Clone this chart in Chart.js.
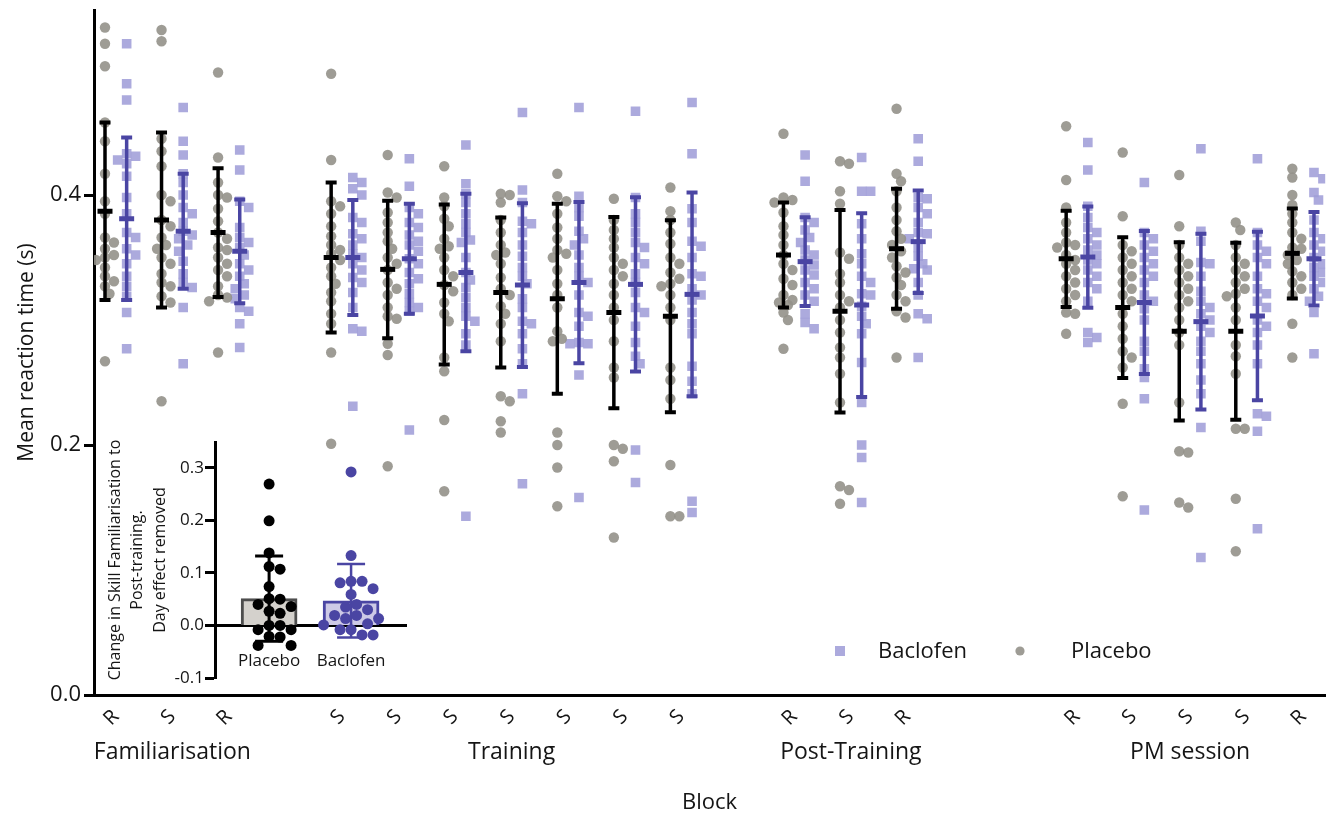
<!DOCTYPE html>
<html><head><meta charset="utf-8">
<script src="https://cdn.jsdelivr.net/npm/chart.js@4.4.1/dist/chart.umd.min.js"></script>
<style>
html,body{margin:0;padding:0;background:#fff;}
#wrap{position:relative;width:1332px;height:818px;}
#main{position:absolute;left:0;top:0;}
#inset{position:absolute;left:96px;top:436px;}
</style></head><body>
<div id="wrap"><canvas id="main" width="1332" height="818"></canvas><canvas id="inset" width="320" height="250"></canvas></div>
<script>
// ---------------- DATA ----------------
const sessionNames = ['Familiarisation','Training','Post-Training','PM session'];
const sessionBlocks = [['R','S','R'],['S','S','S','S','S','S','S'],['R','S','R'],['R','S','S','S','R']];
const yTickValues = [0, 0.2, 0.4];
const yTickLabels = ['0.0','0.2','0.4'];

const placeboMean = [0.387,0.380,0.370,0.350,0.3405,0.3285,0.322,0.317,0.306,0.303,0.352,0.307,0.357,0.349,0.310,0.291,0.291,0.3533];
const placeboSD   = [0.071,0.070,0.0515,0.060,0.055,0.064,0.060,0.076,0.0765,0.0768,0.042,0.081,0.048,0.0385,0.0563,0.0713,0.0708,0.036];
const baclofenMean= [0.381,0.371,0.355,0.350,0.349,0.338,0.328,0.330,0.3285,0.3205,0.3467,0.312,0.3627,0.3504,0.314,0.2987,0.3032,0.349];
const baclofenSD  = [0.065,0.046,0.0415,0.046,0.044,0.063,0.0655,0.0645,0.0697,0.0815,0.0355,0.0735,0.041,0.0405,0.0572,0.0703,0.0674,0.0374];

const placeboRT = [
 [0.534,0.521,0.503,0.458,0.443,0.417,0.395,0.385,0.366,0.357,0.352,0.350,0.348,0.342,0.335,0.327,0.321,0.267,0.362,0.331],
 [0.532,0.523,0.445,0.435,0.423,0.400,0.395,0.380,0.375,0.366,0.357,0.350,0.345,0.337,0.330,0.327,0.319,0.314,0.235,0.360],
 [0.498,0.430,0.410,0.400,0.398,0.389,0.379,0.370,0.365,0.358,0.356,0.350,0.345,0.340,0.335,0.327,0.320,0.318,0.315,0.274],
 [0.497,0.428,0.395,0.391,0.385,0.375,0.367,0.360,0.356,0.353,0.348,0.342,0.335,0.329,0.322,0.315,0.305,0.297,0.274,0.201],
 [0.432,0.402,0.398,0.386,0.378,0.370,0.363,0.357,0.350,0.345,0.340,0.330,0.325,0.320,0.310,0.303,0.301,0.281,0.272,0.183],
 [0.423,0.398,0.391,0.381,0.375,0.365,0.359,0.357,0.350,0.340,0.335,0.328,0.323,0.314,0.305,0.299,0.270,0.259,0.220,0.163],
 [0.401,0.400,0.394,0.380,0.370,0.360,0.354,0.352,0.345,0.334,0.325,0.320,0.311,0.305,0.297,0.283,0.239,0.235,0.219,0.210],
 [0.417,0.399,0.395,0.385,0.374,0.365,0.356,0.353,0.350,0.340,0.329,0.320,0.310,0.291,0.285,0.283,0.210,0.200,0.182,0.151],
 [0.397,0.380,0.372,0.365,0.358,0.350,0.345,0.340,0.335,0.329,0.320,0.310,0.300,0.283,0.262,0.254,0.200,0.197,0.187,0.126],
 [0.406,0.387,0.380,0.370,0.361,0.350,0.345,0.338,0.333,0.329,0.327,0.320,0.310,0.300,0.262,0.252,0.237,0.184,0.143,0.143],
 [0.449,0.398,0.396,0.394,0.386,0.375,0.368,0.360,0.352,0.345,0.340,0.333,0.328,0.320,0.316,0.314,0.312,0.306,0.300,0.277],
 [0.427,0.425,0.403,0.393,0.354,0.349,0.337,0.330,0.310,0.300,0.320,0.315,0.278,0.290,0.257,0.270,0.234,0.167,0.164,0.153],
 [0.469,0.417,0.411,0.403,0.390,0.380,0.371,0.365,0.360,0.355,0.350,0.343,0.338,0.334,0.328,0.320,0.315,0.307,0.302,0.270],
 [0.455,0.412,0.390,0.378,0.370,0.362,0.358,0.352,0.348,0.345,0.340,0.335,0.330,0.325,0.320,0.315,0.306,0.305,0.289,0.360],
 [0.434,0.383,0.360,0.355,0.350,0.345,0.340,0.335,0.330,0.325,0.320,0.315,0.305,0.295,0.285,0.275,0.270,0.262,0.233,0.159],
 [0.416,0.375,0.360,0.350,0.345,0.340,0.335,0.330,0.325,0.320,0.315,0.310,0.300,0.290,0.234,0.195,0.194,0.150,0.154,0.280],
 [0.378,0.372,0.360,0.350,0.345,0.340,0.335,0.330,0.325,0.321,0.319,0.310,0.300,0.280,0.271,0.257,0.213,0.213,0.157,0.115],
 [0.421,0.414,0.400,0.392,0.385,0.378,0.370,0.365,0.358,0.357,0.352,0.348,0.345,0.339,0.335,0.330,0.325,0.320,0.297,0.270]
];
const baclofenRT = [
 [0.521,0.489,0.476,0.433,0.431,0.428,0.425,0.415,0.398,0.385,0.370,0.366,0.357,0.352,0.345,0.335,0.327,0.319,0.306,0.277],
 [0.470,0.443,0.432,0.417,0.410,0.400,0.390,0.385,0.378,0.371,0.368,0.365,0.360,0.355,0.347,0.337,0.330,0.326,0.310,0.265],
 [0.436,0.420,0.395,0.390,0.374,0.366,0.362,0.358,0.352,0.345,0.340,0.335,0.329,0.325,0.320,0.317,0.310,0.307,0.297,0.278],
 [0.414,0.410,0.405,0.400,0.382,0.378,0.369,0.365,0.360,0.353,0.350,0.345,0.340,0.334,0.330,0.322,0.310,0.293,0.291,0.231],
 [0.429,0.407,0.390,0.385,0.378,0.374,0.368,0.363,0.360,0.355,0.349,0.345,0.338,0.333,0.329,0.321,0.314,0.310,0.307,0.212],
 [0.440,0.409,0.401,0.394,0.385,0.377,0.370,0.364,0.362,0.350,0.338,0.332,0.326,0.318,0.310,0.303,0.299,0.289,0.280,0.143],
 [0.466,0.404,0.394,0.379,0.377,0.370,0.360,0.351,0.342,0.335,0.329,0.317,0.310,0.299,0.297,0.289,0.277,0.265,0.241,0.169],
 [0.470,0.399,0.390,0.383,0.371,0.365,0.360,0.352,0.342,0.335,0.330,0.320,0.306,0.303,0.295,0.282,0.281,0.281,0.256,0.158],
 [0.467,0.398,0.385,0.378,0.370,0.362,0.358,0.350,0.345,0.337,0.330,0.322,0.310,0.306,0.295,0.282,0.271,0.265,0.196,0.170],
 [0.474,0.433,0.389,0.378,0.363,0.359,0.350,0.337,0.335,0.325,0.316,0.306,0.297,0.289,0.263,0.251,0.241,0.155,0.146,0.320],
 [0.432,0.411,0.382,0.378,0.372,0.366,0.362,0.356,0.352,0.348,0.344,0.340,0.336,0.330,0.325,0.320,0.315,0.305,0.298,0.293],
 [0.430,0.403,0.403,0.377,0.365,0.353,0.345,0.335,0.321,0.320,0.311,0.303,0.297,0.289,0.266,0.234,0.200,0.190,0.154,0.330],
 [0.445,0.427,0.398,0.397,0.390,0.385,0.378,0.370,0.369,0.365,0.358,0.351,0.345,0.341,0.340,0.330,0.320,0.305,0.301,0.270],
 [0.442,0.420,0.391,0.382,0.374,0.370,0.365,0.360,0.356,0.352,0.348,0.345,0.340,0.335,0.330,0.325,0.315,0.290,0.286,0.282],
 [0.410,0.370,0.365,0.360,0.355,0.350,0.345,0.340,0.335,0.330,0.320,0.315,0.309,0.300,0.283,0.275,0.261,0.254,0.237,0.148],
 [0.437,0.371,0.363,0.346,0.345,0.335,0.323,0.315,0.310,0.305,0.300,0.295,0.290,0.283,0.275,0.265,0.252,0.241,0.214,0.110],
 [0.429,0.370,0.360,0.355,0.350,0.345,0.335,0.325,0.321,0.315,0.310,0.300,0.295,0.290,0.280,0.265,0.225,0.223,0.211,0.133],
 [0.418,0.413,0.402,0.396,0.380,0.370,0.365,0.360,0.355,0.350,0.345,0.342,0.338,0.335,0.330,0.325,0.319,0.315,0.306,0.273]
];

// inset
const insetGroups = ['Placebo','Baclofen'];
const insetMean = [0.051, 0.047];
const insetSD = [0.081, 0.070];
const insetPlacebo = [0.269,0.199,0.138,0.107,0.112,0.074,0.050,0.051,0.036,0.040,0.027,0.023,0.000,0.000,-0.008,-0.008,-0.022,-0.021,-0.038,-0.038];
const insetBaclofen = [0.292,0.133,0.084,0.081,0.084,0.070,0.059,0.040,0.030,0.035,0.019,0.019,0.013,0.013,0.001,0.003,-0.008,-0.008,-0.018,-0.018];
const insetYTicks = [-0.1, 0, 0.1, 0.2, 0.3];
const insetYLabels = ['-0.1','0.0','0.1','0.2','0.3'];

// ---------------- LAYOUT / STYLE ----------------
const GRAY = 'rgba(148,145,138,0.9)';
const LAV = 'rgba(160,158,216,0.88)';
const BLUE = '#4a45a3';
const TXT = '#151515';
Chart.defaults.font.family = "'Open Sans', 'DejaVu Sans', sans-serif";
Chart.defaults.color = TXT;

const gapBefore = [0,1,1,2];
const pos = [], blockLabels = [], sessionCenters = [];
(function(){ let p = 0; sessionBlocks.forEach((b,si)=>{ p += gapBefore[si]; const s = p; b.forEach(l=>{ pos.push(p); blockLabels.push(l); p++; }); sessionCenters.push((s + p - 1)/2); }); })();
const X_MIN = -0.386, X_MAX = 21.39, Y_MAX = 0.548, PL_OFF = -0.1915, BC_OFF = 0.1915;

function swarmOffsets(pys, step, maxOff, minD){
  const idx = pys.map((_,i)=>i).sort((a,b)=>pys[a]-pys[b]);
  const cands=[0]; for(let k=1;k*step<=maxOff+0.01;k++){cands.push(k*step,-k*step);}
  const placed=[], out=new Array(pys.length).fill(0);
  idx.forEach(i=>{
    let best=0,bestD=-1;
    for(const c of cands){
      let d=Infinity;
      for(const q of placed){ const dd=Math.hypot(q.x-c,q.y-pys[i]); if(dd<d) d=dd; }
      if(d>=minD){best=c;bestD=d;break;}
      if(d>bestD){bestD=d;best=c;}
    }
    placed.push({x:best,y:pys[i]}); out[i]=best;
  });
  return out;
}

const errorBars = {
  id:'errorBars',
  afterDatasetsDraw(chart){
    const {ctx, scales:{x,y}} = chart;
    ctx.save(); ctx.lineCap='butt';
    const draw=(cx,m,sd,color)=>{
      const px=x.getPixelForValue(cx), pt=y.getPixelForValue(m+sd), pb=y.getPixelForValue(m-sd), pm=y.getPixelForValue(m);
      ctx.strokeStyle=color;
      ctx.lineWidth=3.5; ctx.beginPath(); ctx.moveTo(px,pt); ctx.lineTo(px,pb); ctx.stroke();
      ctx.lineWidth=4; ctx.beginPath(); ctx.moveTo(px-5.5,pt); ctx.lineTo(px+5.5,pt); ctx.moveTo(px-5.5,pb); ctx.lineTo(px+5.5,pb); ctx.stroke();
      ctx.lineWidth=5; ctx.beginPath(); ctx.moveTo(px-7.5,pm); ctx.lineTo(px+7.5,pm); ctx.stroke();
    };
    pos.forEach((p,i)=>{ draw(p+PL_OFF, placeboMean[i], placeboSD[i], '#000'); draw(p+BC_OFF, baclofenMean[i], baclofenSD[i], BLUE); });
    ctx.restore();
  }
};
const groupLabels = {
  id:'groupLabels',
  afterDraw(chart){
    const {ctx, scales:{x}} = chart;
    ctx.save(); ctx.font = "23px 'Open Sans'"; ctx.fillStyle=TXT; ctx.textAlign='center'; ctx.textBaseline='middle';
    sessionNames.forEach((n,i)=>ctx.fillText(n, x.getPixelForValue(sessionCenters[i]), 752));
    ctx.restore();
  }
};
const customLegend = {
  id:'customLegend',
  afterDraw(chart){
    const {ctx} = chart; const ds = chart.data.datasets;
    ctx.save(); ctx.font = "22px 'Open Sans'"; ctx.fillStyle=TXT; ctx.textBaseline='middle'; ctx.textAlign='left';
    ctx.fillStyle = ds[1].backgroundColor; ctx.fillRect(835,646,10,10);
    ctx.fillStyle = TXT; ctx.fillText(ds[1].label, 878, 652);
    ctx.fillStyle = ds[0].backgroundColor; ctx.beginPath(); ctx.arc(1020,651,4.6,0,Math.PI*2); ctx.fill();
    ctx.fillStyle = TXT; ctx.fillText(ds[0].label, 1071, 652);
    ctx.restore();
  }
};

const mainChart = new Chart(document.getElementById('main'), {
  type:'scatter',
  data:{ datasets:[
    {label:'Placebo', data: [], pointStyle:'circle', pointRadius:5.2, backgroundColor:GRAY, borderWidth:0},
    {label:'Baclofen', data: [], pointStyle:'rect', pointRadius:6.8, backgroundColor:LAV, borderWidth:0}
  ]},
  options:{
    responsive:false, animation:false, events:[],
    layout:{padding:{top:10,right:4,bottom:0,left:0}},
    plugins:{legend:{display:false}, tooltip:{enabled:false}},
    scales:{
      x:{ type:'linear', min:X_MIN, max:X_MAX, offset:false,
        border:{display:true,color:'#000',width:3},
        grid:{display:false, drawTicks:false},
        ticks:{autoSkip:false, minRotation:45, maxRotation:45, padding:10, font:{size:20}, color:TXT,
          callback:(v)=>{const i=pos.indexOf(v); return i>=0?blockLabels[i]:'';}},
        afterBuildTicks:(s)=>{ s.ticks = pos.map(v=>({value:v})); },
        afterFit:(s)=>{ s.height=123; s.paddingLeft=0; s.paddingRight=0; },
        title:{display:true, text:'Block', font:{size:22}, color:TXT, padding:{top:0,bottom:2}}
      },
      y:{ type:'linear', min:0, max:Y_MAX,
        border:{display:true,color:'#000',width:3},
        grid:{display:true, drawOnChartArea:false, drawTicks:true, tickLength:10, tickWidth:3, tickColor:'#000', color:'#000'},
        ticks:{padding:3, font:{size:22}, color:TXT, callback:(v)=>{const i=yTickValues.indexOf(v); return i>=0?yTickLabels[i]:'';}},
        afterBuildTicks:(s)=>{ s.ticks = yTickValues.map(v=>({value:v})); },
        afterFit:(s)=>{ s.width=94; s.paddingTop=0; s.paddingBottom=0; },
        title:{display:true, text:'Mean reaction time (s)', font:{size:21}, color:TXT, padding:{top:14,bottom:0}}
      }
    }
  },
  plugins:[errorBars, groupLabels, customLegend]
});

(function(){
  const xs=mainChart.scales.x, ys=mainChart.scales.y;
  const ppu = xs.getPixelForValue(1)-xs.getPixelForValue(0);
  const build=(vals,off)=>{ const out=[]; pos.forEach((p,i)=>{ const pys=vals[i].map(v=>ys.getPixelForValue(v)); const o=swarmOffsets(pys,4.5,11,8.5); vals[i].forEach((v,j)=>out.push({x:p+off+o[j]/ppu, y:v})); }); return out; };
  mainChart.data.datasets[0].data = build(placeboRT, PL_OFF);
  mainChart.data.datasets[1].data = build(baclofenRT, BC_OFF);
  mainChart.update('none');
})();

// ---------------- INSET ----------------
const insetErr = {
  id:'insetErr',
  afterDatasetDraw(chart, args){
    if(args.index!==0) return;
    const {ctx, scales:{x,y}} = chart;
    ctx.save();
    insetGroups.forEach((g,i)=>{
      const px=x.getPixelForValue(i+1), pt=y.getPixelForValue(insetMean[i]+insetSD[i]), pb=y.getPixelForValue(insetMean[i]-insetSD[i]);
      ctx.strokeStyle = i===0?'#000':BLUE; ctx.lineWidth = i===0?3:2.5;
      ctx.beginPath(); ctx.moveTo(px,pt); ctx.lineTo(px,pb); ctx.moveTo(px-14,pt); ctx.lineTo(px+14,pt); ctx.moveTo(px-14,pb); ctx.lineTo(px+14,pb); ctx.stroke();
    });
    ctx.restore();
  }
};
const insetChart = new Chart(document.getElementById('inset'), {
  type:'scatter',
  data:{ datasets:[
    {type:'bar', label:'mean', data: insetMean.map((m,i)=>({x:i+1,y:m})), backgroundColor:['#d4d1cc','#cdc9e6'], borderColor:['#4d4d4d',BLUE], borderWidth:3, barThickness:56, order:2},
    {type:'scatter', label:insetGroups[0], data: insetPlacebo.map(v=>({x:1,y:v})), pointRadius:5.5, backgroundColor:'#000', borderWidth:0, order:1},
    {type:'scatter', label:insetGroups[1], data: insetBaclofen.map(v=>({x:2,y:v})), pointRadius:5.5, backgroundColor:BLUE, borderWidth:0, order:1}
  ]},
  options:{
    responsive:false, animation:false, events:[],
    layout:{padding:{top:6,right:10,bottom:8,left:0}},
    plugins:{legend:{display:false}, tooltip:{enabled:false}},
    scales:{
      x:{ type:'linear', min:0.34, max:2.67, position:{y:0}, offset:false,
        border:{display:true,color:'#000',width:3},
        grid:{display:false, drawTicks:false, offset:false},
        ticks:{padding:26, font:{size:17}, color:TXT, autoSkip:false, maxRotation:0,
          callback:(v)=>{ return (v===1||v===2)?insetGroups[v-1]:''; }},
        afterBuildTicks:(s)=>{ s.ticks = insetGroups.map((g,i)=>({value:i+1})); },
        afterFit:(s)=>{ s.paddingLeft=0; s.paddingRight=0; }
      },
      y:{ type:'linear', min:-0.1, max:0.349,
        border:{display:true,color:'#000',width:3},
        grid:{display:true, drawOnChartArea:false, drawTicks:true, tickLength:10, tickWidth:3, tickColor:'#000', color:'#000'},
        ticks:{padding:1, font:{size:17}, color:TXT, callback:(v)=>{const i=insetYTicks.findIndex(t=>Math.abs(t-v)<1e-9); return i>=0?insetYLabels[i]:'';}},
        afterBuildTicks:(s)=>{ s.ticks = insetYTicks.map(v=>({value:v})); },
        afterFit:(s)=>{ s.width=119; s.paddingTop=0; s.paddingBottom=0; },
        title:{display:true, text:['Change in Skill Familiarisation to','Post-training.','Day effect removed'], font:{size:16, lineHeight:1.4}, color:TXT, padding:{top:8,bottom:0}}
      }
    }
  },
  plugins:[insetErr]
});
(function(){
  const xs=insetChart.scales.x, ys=insetChart.scales.y;
  const ppu = xs.getPixelForValue(1)-xs.getPixelForValue(0);
  [[1,insetPlacebo],[2,insetBaclofen]].forEach(([c,vals],k)=>{
    const pys=vals.map(v=>ys.getPixelForValue(v)); const o=swarmOffsets(pys,5.5,28,11);
    insetChart.data.datasets[k+1].data = vals.map((v,j)=>({x:c+o[j]/ppu, y:v}));
  });
  insetChart.update('none');
})();
</script>
</body></html>
